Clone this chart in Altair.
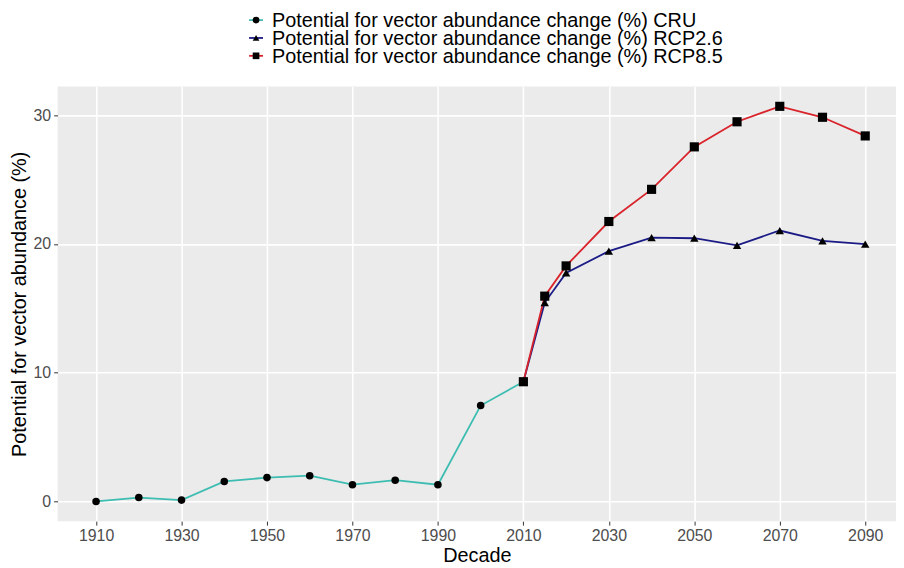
import altair as alt
import pandas as pd

cru_years = [1910, 1920, 1930, 1940, 1950, 1960, 1970, 1980, 1990, 2000, 2010]
cru_vals = [0.0, 0.3, 0.1, 1.55, 1.85, 2.0, 1.3, 1.65, 1.3, 7.45, 9.3]

rcp_years = [2010, 2015, 2020, 2030, 2040, 2050, 2060, 2070, 2080, 2090]
rcp26_vals = [9.3, 15.45, 17.75, 19.45, 20.5, 20.45, 19.9, 21.05, 20.25, 20.0]
rcp85_vals = [9.3, 15.95, 18.3, 21.75, 24.25, 27.55, 29.5, 30.7, 29.85, 28.4]

labels = [
    "Potential for vector abundance change (%) CRU",
    "Potential for vector abundance change (%) RCP2.6",
    "Potential for vector abundance change (%) RCP8.5",
]
line_colors = ["#3DBDB1", "#1B1B86", "#D9232B"]
shapes = ["circle", "triangle-up", "square"]
marker_sizes = [58, 85, 58]
x_ticks = [1910, 1930, 1950, 1970, 1990, 2010, 2030, 2050, 2070, 2090]
y_ticks = [0, 10, 20, 30]

rows = []
for y, v in zip(cru_years, cru_vals):
    rows.append({"Decade": y, "value": v, "series": labels[0]})
for y, v in zip(rcp_years, rcp26_vals):
    rows.append({"Decade": y, "value": v, "series": labels[1]})
for y, v in zip(rcp_years, rcp85_vals):
    rows.append({"Decade": y, "value": v, "series": labels[2]})
df = pd.DataFrame(rows)
legend_df = pd.DataFrame({"series": labels})

color_scale = alt.Scale(domain=labels, range=line_colors)
shape_scale = alt.Scale(domain=labels, range=shapes)

x = alt.X("Decade:Q",
          scale=alt.Scale(domain=[1901, 2097.2], nice=False, zero=False),
          axis=alt.Axis(values=x_ticks, format="d", title="Decade"))
y = alt.Y("value:Q",
          scale=alt.Scale(domain=[-1.535, 32.235], nice=False, zero=False),
          axis=alt.Axis(values=y_ticks, title="Potential for vector abundance (%)"))

base = alt.Chart(df)

lines = base.mark_line(strokeWidth=1.8).encode(
    x=x, y=y,
    color=alt.Color("series:N", scale=color_scale, legend=None),
)

points = base.mark_point(filled=True, opacity=1).encode(
    x=x, y=y,
    color=alt.value("black"),
    shape=alt.Shape("series:N", scale=shape_scale, legend=None),
    size=alt.Size("series:N", scale=alt.Scale(domain=labels, range=marker_sizes), legend=None),
)

main = alt.layer(lines, points)

# legend drawn from the label list, rows placed by a point scale above the panel
leg_y = alt.Y("series:N", scale=alt.Scale(type="point", domain=labels, range=[-67, -31], padding=0),
              axis=None)
leg_base = alt.Chart(legend_df)
leg_lines = leg_base.mark_rule(strokeWidth=1.8).encode(
    x=alt.value(193), x2=alt.value(207), y=leg_y,
    color=alt.Color("series:N", scale=color_scale, legend=None),
)
leg_pts = leg_base.mark_point(filled=True, opacity=1, size=45).encode(
    x=alt.value(200), y=leg_y, color=alt.value("black"),
    shape=alt.Shape("series:N", scale=shape_scale, legend=None),
)
leg_txt = leg_base.mark_text(align="left", baseline="middle", fontSize=20,
                             font="Liberation Sans", color="black", dy=1).encode(
    x=alt.value(216), y=leg_y, text="series:N",
)
legend_layer = alt.layer(leg_lines, leg_pts, leg_txt)

chart = alt.layer(main, legend_layer).resolve_scale(y="independent").properties(
    width=845, height=438,
    autosize=alt.AutoSizeParams(type="none"),
    padding={"left": 50, "top": 77, "right": 0, "bottom": 44},
).configure_view(
    fill="#EBEBEB", stroke=None
).configure_axis(
    grid=True, gridColor="white", gridWidth=1.6,
    domain=False, tickColor="#333333", tickSize=4, tickWidth=1,
    labelColor="#4D4D4D", labelFontSize=16, labelFont="Liberation Sans",
    titleFont="Liberation Sans", titleFontSize=20, titleColor="black",
    titleFontWeight="normal", labelPadding=3,
).configure_axisX(
    titlePadding=2
).configure_axisY(
    titlePadding=4
)

chart.save("out.html", embed_options={"renderer": "svg", "actions": False})
